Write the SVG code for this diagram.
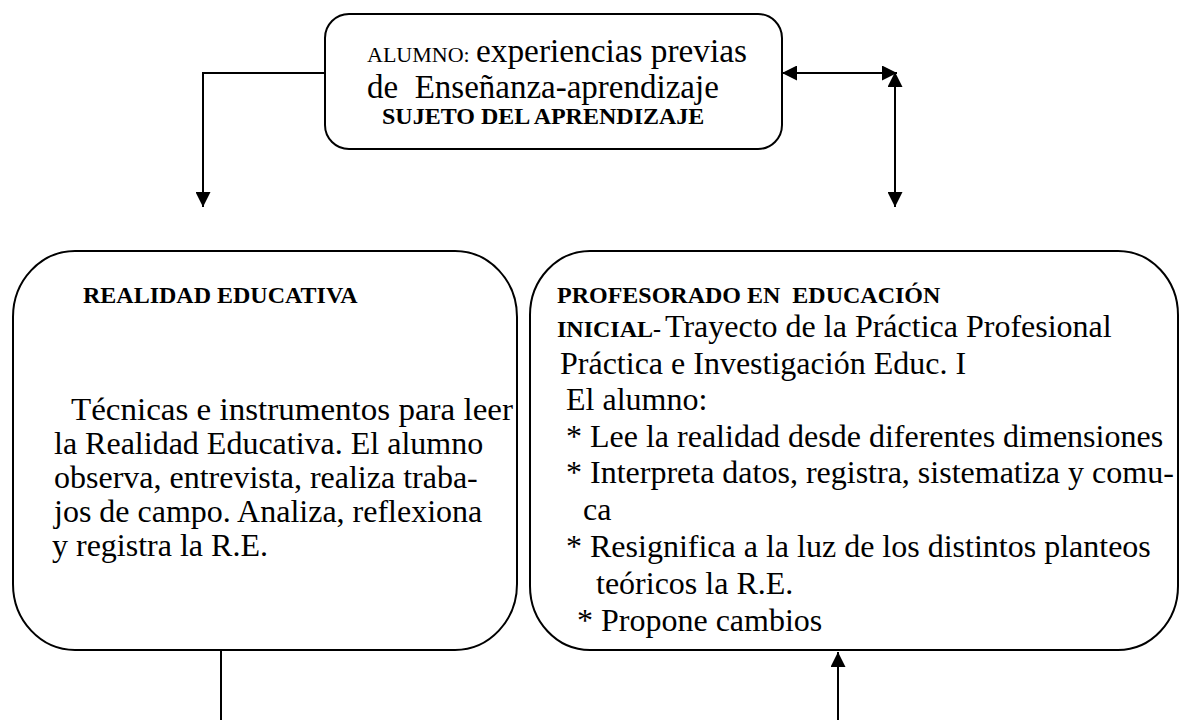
<svg xmlns="http://www.w3.org/2000/svg" width="1180" height="720" viewBox="0 0 1180 720">
<style>
.box{fill:#fff;stroke:#000;stroke-width:2}
.ln{fill:none;stroke:#000;stroke-width:2}
.t{font-family:"Liberation Serif","Times New Roman",serif;font-size:32px;fill:#000}
.tt{font-family:"Liberation Serif","Times New Roman",serif;font-size:33px;fill:#000}
.b{font-family:"Liberation Serif","Times New Roman",serif;font-weight:bold;font-size:24px;fill:#000}
.s{font-family:"Liberation Serif","Times New Roman",serif;font-size:22px;fill:#000}
</style>
<defs>
<marker id="ah" viewBox="0 0 15 15" refX="15" refY="7.5" markerWidth="15" markerHeight="15" markerUnits="userSpaceOnUse" orient="auto-start-reverse">
<path d="M0,0 L15,7.5 L0,15 z" fill="#000"/>
</marker>
</defs>
<g id="connectors">
<polyline class="ln" points="325,73 203,73 203,207" marker-end="url(#ah)"/>
<line class="ln" x1="782" y1="73" x2="897" y2="73" marker-start="url(#ah)" marker-end="url(#ah)"/>
<line class="ln" x1="895" y1="72" x2="895" y2="207" marker-start="url(#ah)" marker-end="url(#ah)"/>
<line class="ln" x1="221" y1="650" x2="221" y2="720"/>
<line class="ln" x1="838" y1="720" x2="838" y2="652" marker-end="url(#ah)"/>
</g>
<g id="alumno">
<rect class="box" x="325" y="14" width="457" height="135" rx="24"/>
<text class="s" x="367" y="62">ALUMNO:</text>
<text class="tt" x="476" y="62" textLength="271" lengthAdjust="spacingAndGlyphs">experiencias previas</text>
<text class="tt" x="367" y="98" xml:space="preserve">de  Enseñanza-aprendizaje</text>
<text class="b" x="382" y="124">SUJETO DEL APRENDIZAJE</text>
</g>
<g id="realidad">
<rect class="box" x="13" y="251" width="504" height="399" rx="62" ry="66"/>
<text class="b" x="83" y="303">REALIDAD EDUCATIVA</text>
<text class="t" x="71" y="420" textLength="442" lengthAdjust="spacingAndGlyphs">Técnicas e instrumentos para leer</text>
<text class="t" x="54" y="454">la Realidad Educativa. El alumno</text>
<text class="t" x="54" y="488">observa, entrevista, realiza traba-</text>
<text class="t" x="54" y="522">jos de campo. Analiza, reflexiona</text>
<text class="t" x="52" y="556">y registra la R.E.</text>
</g>
<g id="profesorado">
<rect class="box" x="530" y="251" width="648" height="399" rx="60" ry="64"/>
<text class="b" x="557" y="303" xml:space="preserve">PROFESORADO EN  EDUCACIÓN</text>
<text class="b" x="557" y="337" font-size="22">INICIAL-</text>
<text class="t" x="665" y="337">Trayecto de la Práctica Profesional</text>
<text class="t" x="560" y="374">Práctica e Investigación Educ. I</text>
<text class="t" x="566" y="410">El alumno:</text>
<text class="t" x="566" y="447">* Lee la realidad desde diferentes dimensiones</text>
<text class="t" x="566" y="483">* Interpreta datos, registra, sistematiza y comu-</text>
<text class="t" x="583" y="520">ca</text>
<text class="t" x="566" y="557">* Resignifica a la luz de los distintos planteos</text>
<text class="t" x="596" y="594">teóricos la R.E.</text>
<text class="t" x="577" y="631">* Propone cambios</text>
</g>
</svg>
